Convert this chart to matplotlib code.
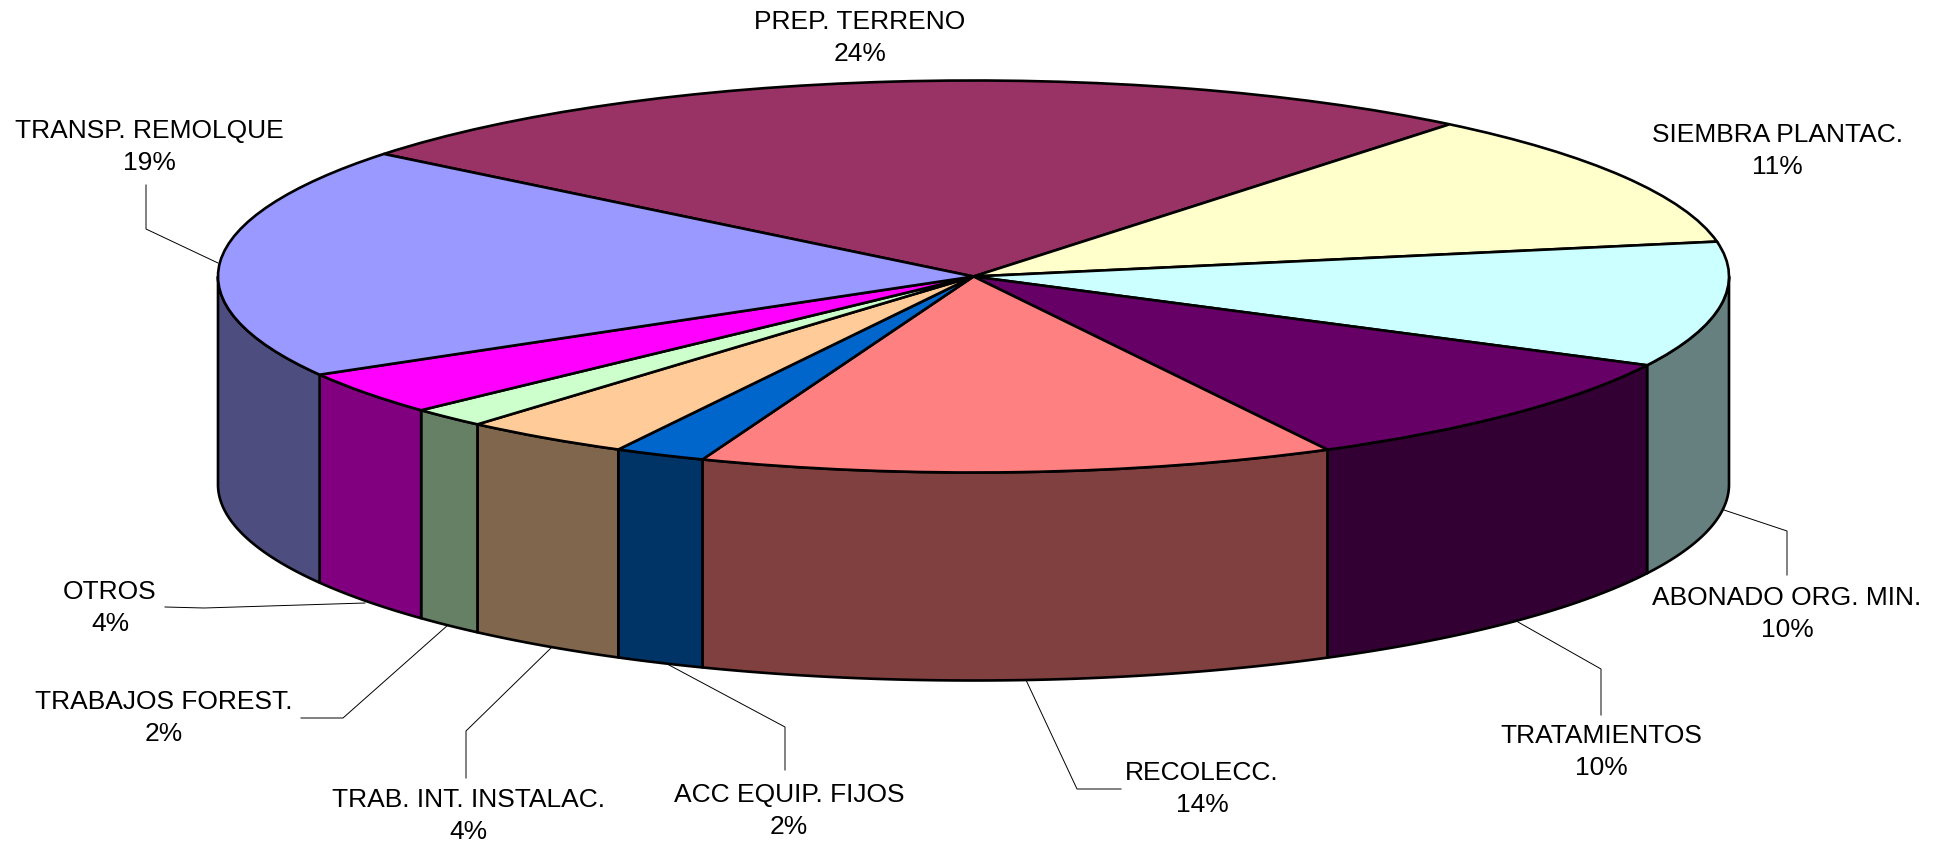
import numpy as np
import matplotlib
matplotlib.use('Agg')
import matplotlib.pyplot as plt
from matplotlib.patches import Wedge, Polygon
from matplotlib.transforms import Affine2D

# Slices, clockwise from the back left edge of PREP. TERRENO
labels = ['PREP. TERRENO', 'SIEMBRA PLANTAC.', 'ABONADO ORG. MIN.', 'TRATAMIENTOS',
          'RECOLECC.', 'ACC EQUIP. FIJOS', 'TRAB. INT. INSTALAC.', 'TRABAJOS FOREST.',
          'OTROS', 'TRANSP. REMOLQUE']
percent_text = ['24%', '11%', '10%', '10%', '14%', '2%', '4%', '2%', '4%', '19%']
values = [25.1, 11.3, 10.33, 9.76, 13.6, 1.95, 3.61, 1.65, 3.6, 19.1]
colors = ['#993366', '#FFFFCC', '#CCFFFF', '#660066', '#FF8080',
          '#0066CC', '#FFCC99', '#CCFFCC', '#FF00FF', '#9999FF']

# Label centres and leader lines, in pixels
label_pos = [(860, 38), (1777, 151), (1787, 614), (1601, 752), (1202, 789),
             (789, 811), (468, 816), (164, 718), (110, 608), (149, 147)]
leaders = [None,
           None,
           [(1787, 575), (1787, 531), (1724, 510)],
           [(1601, 715), (1601, 669), (1518, 622)],
           [(1121, 789), (1077, 789), (1026, 680)],
           [(785, 770), (785, 727), (669, 665)],
           [(466, 778), (466, 731), (551, 648)],
           [(301, 718), (343, 718), (448, 625)],
           [(165, 607), (204, 608), (365, 603)],
           [(146, 185), (146, 229), (218, 263)]]

W, H = 1942, 843
cx, cy = 973.5, 276.5
rx, ry, depth = 755.5, 196, 208
start_angle = 141.3

fig = plt.figure(figsize=(W / 100, H / 100), dpi=100)
ax = fig.add_axes([0, 0, 1, 1])
ax.set_xlim(0, W)
ax.set_ylim(H, 0)
ax.axis('off')

top = Affine2D().scale(rx, -ry).translate(cx, cy) + ax.transData


def arc_points(a1, a2, dy):
    t = np.radians(np.linspace(a1, a2, 200))
    return np.column_stack([cx + rx * np.cos(t), cy - ry * np.sin(t) + dy])


spans = np.array(values) / sum(values) * 360
ends = start_angle - np.cumsum(spans)
starts = ends + spans

# side walls: only the part of each slice between 180 and 360 degrees shows
for s, e, c in zip(starts, ends, colors):
    for shift in (0, -360):
        hi, lo = s + shift, e + shift
        hi, lo = min(hi, -0.0), max(lo, -180.0)
        if hi <= lo:
            continue
        pts = np.vstack([arc_points(hi, lo, 0), arc_points(lo, hi, depth)])
        rgb = np.array(matplotlib.colors.to_rgb(c)) * 0.5
        ax.add_patch(Polygon(pts, closed=True, facecolor=rgb, edgecolor='black',
                             linewidth=1.9, joinstyle='round', zorder=2))

for s, e, c in zip(starts, ends, colors):
    ax.add_patch(Wedge((0, 0), 1, e, s, facecolor=c, edgecolor='black', linewidth=1.9,
                       transform=top, zorder=3))

for pts in leaders:
    if pts is None:
        continue
    xs, ys = zip(*pts)
    ax.plot(xs, ys, color='black', linewidth=0.7, zorder=1)

for name, pct, (x, y) in zip(labels, percent_text, label_pos):
    ax.text(x, y, name + '\n' + pct, ha='center', va='center', ma='center',
            fontsize=19, family='Liberation Sans', color='black', linespacing=1.46, zorder=4)

fig.savefig('out.png', dpi=100, facecolor='white')
